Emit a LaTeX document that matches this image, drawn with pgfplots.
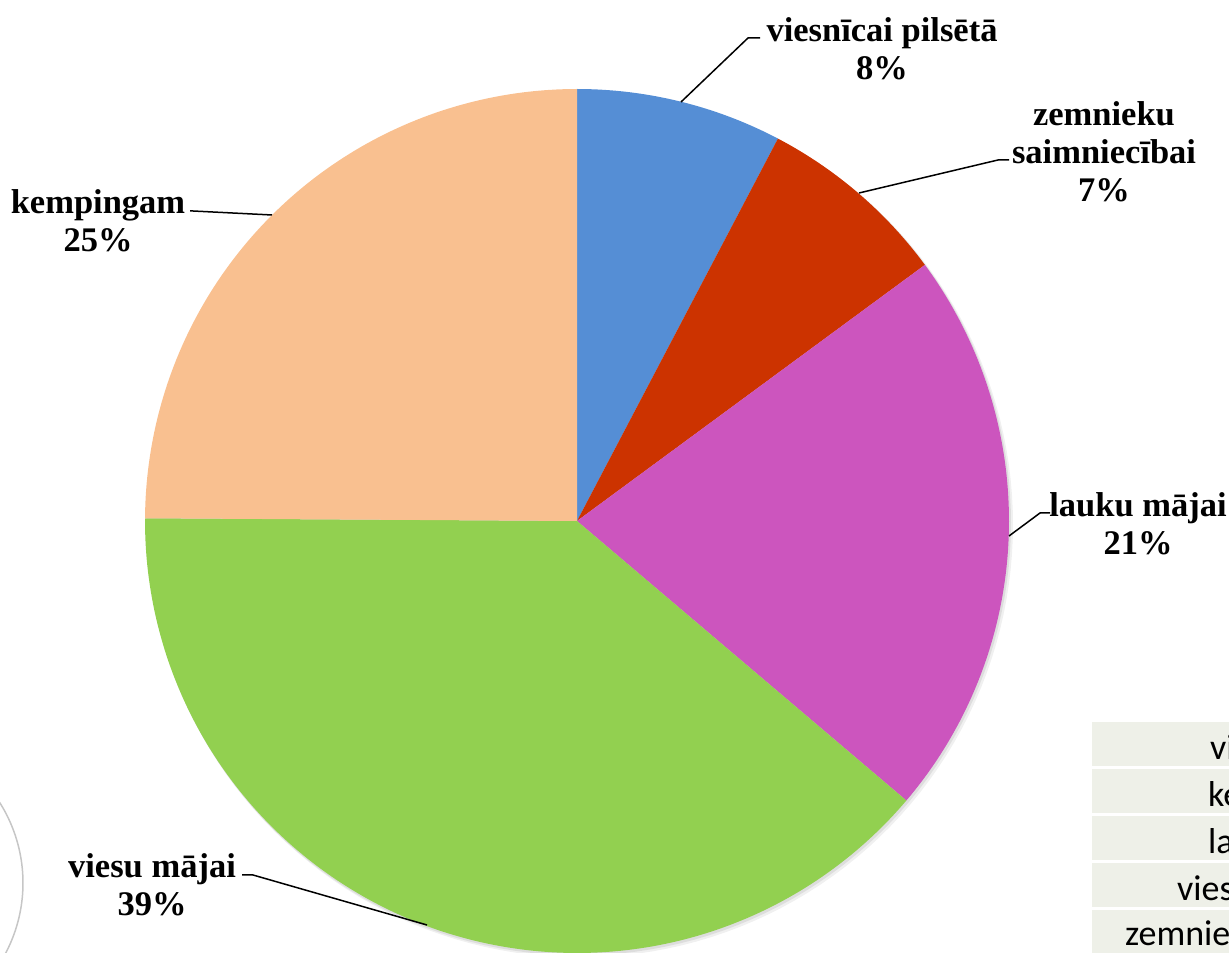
\documentclass[border=0pt]{standalone}
\usepackage{pgfplots}
\pgfplotsset{compat=1.18}
\usepackage{fontspec}
\setmainfont{Liberation Serif}
\newfontfamily\tabfont{Carlito}

\definecolor{cA}{HTML}{558ED5}
\definecolor{cB}{HTML}{CC3300}
\definecolor{cC}{HTML}{CC55BE}
\definecolor{cD}{HTML}{92D050}
\definecolor{cE}{HTML}{F9C090}
\definecolor{tabbg}{HTML}{EEF0E8}

% shares in percent (clockwise from the top)
\newcommand\vA{7.7}  % viesnicai pilseta
\newcommand\vB{7.2}  % zemnieku saimniecibai
\newcommand\vC{21.3} % lauku majai
\newcommand\vD{38.9} % viesu majai
\newcommand\vE{24.9} % kempingam

\pgfmathsetmacro\aA{90}
\pgfmathsetmacro\aB{\aA-3.6*\vA}
\pgfmathsetmacro\aC{\aB-3.6*\vB}
\pgfmathsetmacro\aD{\aC-3.6*\vC}
\pgfmathsetmacro\aE{\aD-3.6*\vD}
\pgfmathsetmacro\aF{\aE-3.6*\vE}

\begin{document}
\begin{tikzpicture}
\begin{axis}[hide axis, scale only axis, width=1229pt, height=953pt,
  xmin=0, xmax=1229, ymin=0, ymax=953, clip=false,
  every axis plot/.append style={line join=round}]
% soft shadow
\addplot[fill=black, opacity=0.06, draw=none, domain=0:360, samples=180, variable=\t] ({580+433*cos(\t)},{428.5+433*sin(\t)});
\addplot[fill=black, opacity=0.08, draw=none, domain=0:360, samples=180, variable=\t] ({578.5+432.5*cos(\t)},{430+432.5*sin(\t)});
% wedges
\addplot[fill=cA, draw=none, domain=\aB:\aA, samples=60, variable=\t] ({577+432*cos(\t)},{432+432*sin(\t)}) -- (577,432) -- cycle;
\addplot[fill=cB, draw=none, domain=\aC:\aB, samples=60, variable=\t] ({577+432*cos(\t)},{432+432*sin(\t)}) -- (577,432) -- cycle;
\addplot[fill=cC, draw=none, domain=\aD:\aC, samples=100, variable=\t] ({577+432*cos(\t)},{432+432*sin(\t)}) -- (577,432) -- cycle;
\addplot[fill=cD, draw=none, domain=\aE:\aD, samples=160, variable=\t] ({577+432*cos(\t)},{432+432*sin(\t)}) -- (577,432) -- cycle;
\addplot[fill=cE, draw=none, domain=\aF:\aE, samples=100, variable=\t] ({577+432*cos(\t)},{432+432*sin(\t)}) -- (577,432) -- cycle;
% leader lines
\addplot[black, line width=1.5pt] coordinates {(681,851) (748,915) (760,915)};
\addplot[black, line width=1.5pt] coordinates {(859,760) (998,793) (1009,793)};
\addplot[black, line width=1.5pt] coordinates {(1009,417) (1040,440) (1050,440)};
\addplot[black, line width=1.5pt] coordinates {(427,28) (253,78) (242,78)};
\addplot[black, line width=1.5pt] coordinates {(272,738) (193,742) (190,742)};
% labels
\tikzset{lbl/.style={align=center, inner sep=0, font=\bfseries\fontsize{34.5}{38}\selectfont}}
\node[lbl] at (882,904) {viesnīcai pilsētā\\8\%};
\node[lbl] at (1104,801) {zemnieku\\saimniecībai\\7\%};
\node[lbl] at (1138,429) {lauku mājai\\21\%};
\node[lbl] at (152,68) {viesu mājai\\39\%};
\node[lbl] at (98,732) {kempingam\\25\%};
% decorative arc at the left edge
\addplot[gray!45, line width=1.5pt, domain=-40:40, samples=60, variable=\t] ({-127.6+150.6*cos(\t)},{70+150.6*sin(\t)});
% table fragment at the lower right
\addplot[fill=tabbg, draw=none] coordinates {(1092,231) (1240,231) (1240,187) (1092,187)} -- cycle;
\addplot[fill=tabbg, draw=none] coordinates {(1092,184) (1240,184) (1240,140) (1092,140)} -- cycle;
\addplot[fill=tabbg, draw=none] coordinates {(1092,137) (1240,137) (1240,93) (1092,93)} -- cycle;
\addplot[fill=tabbg, draw=none] coordinates {(1092,90) (1240,90) (1240,46) (1092,46)} -- cycle;
\addplot[fill=tabbg, draw=none] coordinates {(1092,43) (1240,43) (1240,-5) (1092,-5)} -- cycle;
\node[anchor=base west, inner sep=0, font=\tabfont\fontsize{36}{40}\selectfont] at (1210,193) {viesnīcai pilsētā};
\node[anchor=base west, inner sep=0, font=\tabfont\fontsize{36}{40}\selectfont] at (1208,146) {kempingam};
\node[anchor=base west, inner sep=0, font=\tabfont\fontsize{36}{40}\selectfont] at (1208,99) {lauku mājai};
\node[anchor=base west, inner sep=0, font=\tabfont\fontsize{36}{40}\selectfont] at (1177,52) {viesu mājai};
\node[anchor=base west, inner sep=0, font=\tabfont\fontsize{36}{40}\selectfont] at (1125,7) {zemnieku saimniecībai};
\end{axis}
\pgfresetboundingbox
\useasboundingbox (0,0) rectangle (1229pt,953pt);
\end{tikzpicture}
\end{document}
